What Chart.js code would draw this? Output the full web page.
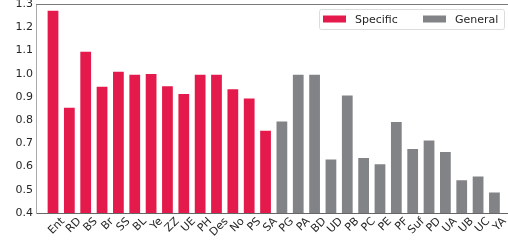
<!DOCTYPE html>
<html>
<head>
<meta charset="utf-8">
<script src="https://cdn.jsdelivr.net/npm/chart.js@4/dist/chart.umd.min.js"></script>
<style>
  html, body { margin: 0; padding: 0; background: #fff; }
  #wrap { width: 508px; height: 246px; }
</style>
</head>
<body>
<div id="wrap"><canvas id="chart"></canvas></div>
<script>
// Dados
const specificCats = ['Ent', 'RD', 'BS', 'Br', 'SS', 'BL', 'Ye', 'ZZ', 'UE', 'PH', 'Des', 'No', 'PS', 'SA'];
const specificVals = [1.275, 0.857, 1.099, 0.948, 1.013, 1.0, 1.003, 0.95, 0.917, 1.0, 1.0, 0.937, 0.897, 0.758];
const generalCats = ['PG', 'PA', 'BD', 'UD', 'PB', 'PC', 'PE', 'PF', 'Suf', 'PD', 'UA', 'UB', 'UC', 'YA'];
const generalVals = [0.798, 1.0, 1.0, 0.635, 0.91, 0.641, 0.614, 0.796, 0.68, 0.716, 0.667, 0.545, 0.562, 0.493];
const yTicks = [0.4, 0.5, 0.6, 0.7, 0.8, 0.9, 1.0, 1.1, 1.2, 1.3];

const allCats = specificCats.concat(generalCats);

Chart.defaults.font.family = "'DejaVu Sans', sans-serif";
Chart.defaults.font.size = 11;
Chart.defaults.color = '#262626';

// moldura (spine de cima) + legenda dentro do gráfico, canto superior direito
const framePlugin = {
    id: 'frameLegend',
    afterDraw(chart) {
        const ctx = chart.ctx;
        const a = chart.chartArea;
        ctx.save();
        ctx.strokeStyle = '#7a7a7a';
        ctx.lineWidth = 1;
        ctx.beginPath();
        ctx.moveTo(a.left, a.top + 0.5);
        ctx.lineTo(a.right, a.top + 0.5);
        ctx.stroke();

        // legenda
        const lx = a.right - 189, ly = a.top + 5, lw = 185, lh = 20;
        ctx.fillStyle = 'rgba(255,255,255,0.85)';
        ctx.strokeStyle = '#dcdcdc';
        ctx.beginPath();
        ctx.roundRect(lx + 0.5, ly + 0.5, lw, lh, 2);
        ctx.fill();
        ctx.stroke();
        ctx.font = "11px 'DejaVu Sans'";
        ctx.textBaseline = 'middle';
        chart.data.datasets.forEach((ds, i) => {
            const sx = lx + 4 + i * 100;
            ctx.fillStyle = ds.backgroundColor;
            ctx.fillRect(sx, ly + 6.5, 23, 7);
            ctx.fillStyle = '#262626';
            ctx.fillText(ds.label, sx + 32, ly + lh / 2 + 1);
        });
        ctx.restore();
    }
};

new Chart(document.getElementById('chart'), {
    type: 'bar',
    data: {
        datasets: [
            {
                label: 'Specific',
                data: specificVals.map((v, i) => ({ x: i, y: v })),
                backgroundColor: '#e31a4b',
                borderColor: 'rgba(255,255,255,0.6)',
                borderWidth: 1
            },
            {
                label: 'General',
                data: generalVals.map((v, i) => ({ x: i + specificCats.length, y: v })),
                backgroundColor: '#818386',
                borderColor: 'rgba(255,255,255,0.6)',
                borderWidth: 1
            }
        ]
    },
    plugins: [framePlugin],
    options: {
        responsive: true,
        maintainAspectRatio: false,
        animation: false,
        grouped: false,
        barPercentage: 0.78,
        categoryPercentage: 1,
        layout: { padding: { top: 4, right: 0, left: 0, bottom: 0 } },
        plugins: {
            legend: { display: false },
            tooltip: { enabled: false }
        },
        scales: {
            x: {
                type: 'linear',
                offset: false,
                min: -1.04,
                max: 27.83,
                afterBuildTicks: axis => { axis.ticks = allCats.map((c, i) => ({ value: i })); },
                afterFit: axis => {
                    axis.height = 33;
                    axis.paddingLeft = 0;
                    axis.paddingRight = 0;
                },
                grid: { display: false, drawTicks: false },
                border: { display: true, color: '#666' },
                ticks: {
                    autoSkip: false,
                    maxRotation: 45,
                    minRotation: 45,
                    labelOffset: 10,
                    padding: 2,
                    callback: v => allCats[v]
                }
            },
            y: {
                min: 0.4,
                max: 1.3,
                afterBuildTicks: axis => { axis.ticks = yTicks.map(v => ({ value: v })); },
                afterFit: axis => {
                    axis.width = 36;
                    axis.paddingTop = 0;
                    axis.paddingBottom = 0;
                },
                grid: { display: false, drawTicks: false },
                border: { display: true, color: '#aaa' },
                ticks: {
                    padding: 3,
                    callback: v => v.toFixed(1)
                }
            }
        }
    }
});
</script>
</body>
</html>
